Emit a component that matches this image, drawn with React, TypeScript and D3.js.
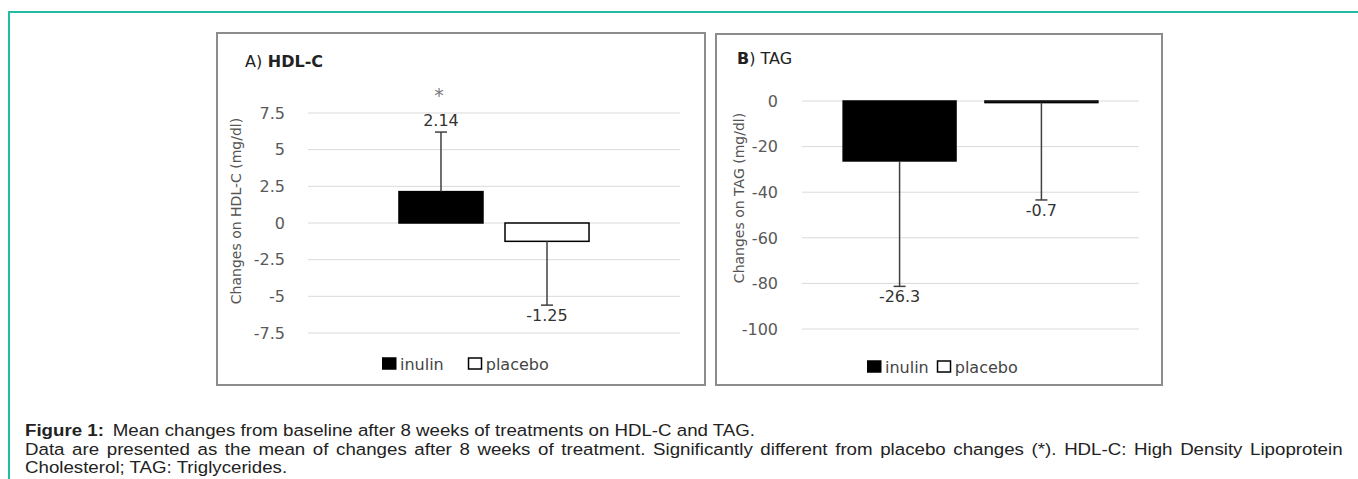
import React, { useRef, useEffect } from "react";
import * as d3 from "d3";

// series (legend entries)
const series = ["inulin", "placebo"];
const seriesFill = ["#000000", "#ffffff"];

// A) HDL-C
const hdlMeans = [2.14, -1.25];
const hdlErrors = [4.06, 4.35];
const hdlTicks = [7.5, 5, 2.5, 0, -2.5, -5, -7.5];

// B) TAG
const tagMeans = [-26.3, -0.7];
const tagErrors = [55, 42.7];
const tagTicks = [0, -20, -40, -60, -80, -100];

const captionLine1 = "Mean changes from baseline after 8 weeks of treatments on HDL-C and TAG.";
const captionLine2 =
  "Data are presented as the mean of changes after 8 weeks of treatment. Significantly different from placebo changes (*). HDL-C:  High Density Lipoprotein";
const captionLine3 = "Cholesterol; TAG: Triglycerides.";

const chartFont = "'DejaVu Sans', Verdana, sans-serif";
const textFont = "'Liberation Sans', Arial, sans-serif";

const panels = [
  {
    titleA: "A)",
    titleB: " HDL-C",
    boldFirst: false,
    yTitle: "Changes on HDL-C (mg/dl)",
    means: hdlMeans,
    errors: hdlErrors,
    ticks: hdlTicks,
    star: true,
    box: { x: 217, y: 33, w: 488, h: 352 },
    plotX: [308, 680],
    plotY: [333, 113],
    padInner: 0.2075,
    padOuter: 0.858,
    tickX: 285,
    title: { x: 245, y: 67 },
    yTitlePos: { x: 241, y: 211 },
    legend: { x: 382, y: 364, gap: 24 },
  },
  {
    titleA: "B",
    titleB: ") TAG",
    boldFirst: true,
    yTitle: "Changes on TAG (mg/dl)",
    means: tagMeans,
    errors: tagErrors,
    ticks: tagTicks,
    star: false,
    box: { x: 716, y: 34, w: 446, h: 351 },
    plotX: [802, 1139],
    plotY: [329, 101],
    padInner: 0.204,
    padOuter: 0.29,
    tickX: 778,
    title: { x: 737, y: 64 },
    yTitlePos: { x: 744, y: 198 },
    legend: { x: 867, y: 367, gap: 8 },
  },
];

export default function App() {
  const ref = useRef<SVGSVGElement>(null);

  useEffect(() => {
    const width = 1358;
    const height = 479;
    d3.select(ref.current).selectAll("*").remove();
    const svg = d3.select(ref.current).attr("width", width).attr("height", height);

    svg.append("rect").attr("width", width).attr("height", height).attr("fill", "#fff");

    // teal frame of the page
    svg.append("path")
      .attr("d", `M9,${height} V12 H${width}`)
      .attr("fill", "none")
      .attr("stroke", "#22bca4")
      .attr("stroke-width", 2);

    panels.forEach((p) => {
      const g = svg.append("g");

      g.append("rect")
        .attr("x", p.box.x)
        .attr("y", p.box.y)
        .attr("width", p.box.w)
        .attr("height", p.box.h)
        .attr("fill", "#fff")
        .attr("stroke", "#8c8c8c")
        .attr("stroke-width", 2);

      const y = d3.scaleLinear()
        .domain([d3.min(p.ticks)!, d3.max(p.ticks)!])
        .range(p.plotY);

      const x = d3.scaleBand()
        .domain(series)
        .range(p.plotX as [number, number])
        .paddingInner(p.padInner)
        .paddingOuter(p.padOuter);

      // grid
      g.append("g")
        .selectAll("line")
        .data(p.ticks)
        .enter()
        .append("line")
        .attr("x1", p.plotX[0])
        .attr("x2", p.plotX[1])
        .attr("y1", (d) => y(d))
        .attr("y2", (d) => y(d))
        .attr("stroke", "#dadada")
        .attr("stroke-width", 1);

      // tick labels
      g.append("g")
        .selectAll("text")
        .data(p.ticks)
        .enter()
        .append("text")
        .attr("x", p.tickX)
        .attr("y", (d) => y(d))
        .attr("dy", "0.36em")
        .attr("text-anchor", "end")
        .style("font-family", chartFont)
        .style("font-size", "16px")
        .style("fill", "#595959")
        .text((d) => String(d));

      // bars
      g.append("g")
        .selectAll("rect")
        .data(p.means)
        .enter()
        .append("rect")
        .attr("x", (d, i) => x(series[i])!)
        .attr("y", (d) => y(Math.max(0, d)))
        .attr("width", x.bandwidth())
        .attr("height", (d) => Math.abs(y(d) - y(0)))
        .attr("fill", (d, i) => seriesFill[i])
        .attr("stroke", "#000")
        .attr("stroke-width", 1.5);

      // error bars
      const errEnd = (d: number, i: number) => (d >= 0 ? d + p.errors[i] : d - p.errors[i]);
      const cx = (i: number) => x(series[i])! + x.bandwidth() / 2;
      const eg = g.append("g").attr("stroke", "#404040").attr("stroke-width", 1.5);
      p.means.forEach((d, i) => {
        eg.append("line")
          .attr("x1", cx(i)).attr("x2", cx(i))
          .attr("y1", y(d)).attr("y2", y(errEnd(d, i)));
        eg.append("line")
          .attr("x1", cx(i) - 6).attr("x2", cx(i) + 6)
          .attr("y1", y(errEnd(d, i))).attr("y2", y(errEnd(d, i)));
      });

      // value labels
      g.append("g")
        .selectAll("text")
        .data(p.means)
        .enter()
        .append("text")
        .attr("x", (d, i) => cx(i))
        .attr("y", (d, i) => (d >= 0 ? y(errEnd(d, i)) - 6 : y(errEnd(d, i)) + 16))
        .attr("text-anchor", "middle")
        .style("font-family", chartFont)
        .style("font-size", "16px")
        .style("fill", "#333")
        .text((d) => String(d));

      if (p.star) {
        g.append("text")
          .attr("x", cx(0) - 2)
          .attr("y", y(p.means[0] + p.errors[0]) - 30)
          .attr("text-anchor", "middle")
          .style("font-family", chartFont)
          .style("font-size", "19px")
          .style("fill", "#7a7a7a")
          .text("*");
      }

      // panel title
      const t = g.append("text")
        .attr("x", p.title.x)
        .attr("y", p.title.y)
        .style("font-family", chartFont)
        .style("font-size", "16px")
        .style("fill", "#222");
      t.append("tspan").style("font-weight", p.boldFirst ? "bold" : "normal").text(p.titleA);
      t.append("tspan").style("font-weight", p.boldFirst ? "normal" : "bold").text(p.titleB);

      // y axis title
      g.append("text")
        .attr("transform", `translate(${p.yTitlePos.x},${p.yTitlePos.y}) rotate(-90)`)
        .attr("text-anchor", "middle")
        .style("font-family", chartFont)
        .style("font-size", "14px")
        .style("fill", "#555")
        .text(p.yTitle);

      // legend
      const lg = g.append("g").attr("transform", `translate(${p.legend.x},${p.legend.y})`);
      let lx = 0;
      series.forEach((s, i) => {
        lg.append("rect")
          .attr("x", lx + 0.75)
          .attr("y", -6)
          .attr("width", 13)
          .attr("height", 11)
          .attr("fill", seriesFill[i])
          .attr("stroke", "#000")
          .attr("stroke-width", 1.5);
        const txt = lg.append("text")
          .attr("x", lx + 18)
          .attr("y", 0)
          .attr("dy", "0.36em")
          .style("font-family", chartFont)
          .style("font-size", "16px")
          .style("fill", "#444")
          .text(s);
        const w = (txt.node() as SVGTextElement).getComputedTextLength();
        lx += 18 + w + p.legend.gap;
      });
    });

    // caption (text in the source is slightly stretched horizontally)
    const sx = 1.1;
    const cap = svg.append("g")
      .attr("transform", `translate(25,0) scale(${sx},1)`)
      .style("font-family", textFont)
      .style("font-size", "17px")
      .style("fill", "#222");
    const l1 = cap.append("text").attr("x", 0).attr("y", 436);
    l1.append("tspan").style("font-weight", "bold").text("Figure 1:");
    l1.append("tspan").attr("dx", 8).text(captionLine1);

    const l2 = cap.append("text").attr("x", 0).attr("y", 455).text(captionLine2);
    const natural = (l2.node() as SVGTextElement).getComputedTextLength();
    const spaces = captionLine2.split(" ").length - 1;
    l2.attr("word-spacing", ((1345 - 25) / sx - natural) / spaces);

    cap.append("text").attr("x", 0).attr("y", 473).text(captionLine3);
  }, []);

  return (
    <svg
      ref={ref}
      style={{ position: "absolute", left: 0, top: 0, display: "block" }}
    ></svg>
  );
}
